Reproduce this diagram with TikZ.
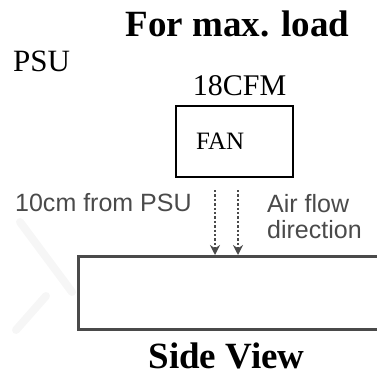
\documentclass[tikz,border=0pt]{standalone}
\usepackage{fontspec}
\setmainfont{Liberation Serif}
\setsansfont{Liberation Sans}
\usetikzlibrary{arrows.meta}
\definecolor{scangray}{HTML}{4A4A4A}
\begin{document}
\begin{tikzpicture}[
    x=1pt, y=-1pt,
    heading/.style={font=\fontsize{37}{40}\selectfont\bfseries, anchor=base, inner sep=0pt},
    label/.style={font=\fontsize{31}{34}\selectfont, anchor=base west, inner sep=0pt},
    note/.style={font=\sffamily\fontsize{25}{26}\selectfont, text=scangray, anchor=base west, inner sep=0pt},
    fanbox/.style={rectangle, draw=black, line width=1.2pt, minimum width=117pt, minimum height=71pt,
        text width=77pt, inner xsep=20pt, align=left, font=\fontsize{25}{28}\selectfont},
    boardbox/.style={rectangle, draw=scangray, line width=3pt, minimum width=320pt, minimum height=73pt, anchor=north west},
    flow/.style={draw=scangray, line width=2.4pt, dash pattern=on 2.4pt off 2pt, -{Stealth[width=10pt,length=10pt]}},
    smudge/.style={draw=gray!7, line width=8pt, line cap=round}
]
\useasboundingbox (0,0) rectangle (377,374);

% Faint scan marks
\draw[smudge] (20,222) -- (72,292);
\draw[smudge] (16,330) -- (46,296);

% Top labels
\node[heading] (title) at (237.5,37) {For max. load};
\node[label] (psu) at (13,72) {PSU};
\node[font=\fontsize{30}{32}\selectfont, anchor=base, inner sep=0pt] (cfm) at (239.5,96) {18CFM};

% Fan
\node[fanbox] (fan) at (234.5,141.5) {FAN};

% Board seen from the side
\node[boardbox] (board) at (77,255) {};

% Air flow
\coordinate (flowA) at (215,190);
\coordinate (flowB) at (238,190);
\draw[flow] (flowA) -- (flowA |- board.north);
\draw[flow] (flowB) -- (flowB |- board.north);

\node[note] (dist) at (15,211) {10cm from PSU};
\node[note] (airflow) at (267,212) {Air flow};
\node[note] (direction) at (267,238) {direction};

% Caption
\node[heading] (sideview) at (226.5,368) {Side View};

\end{tikzpicture}
\end{document}
